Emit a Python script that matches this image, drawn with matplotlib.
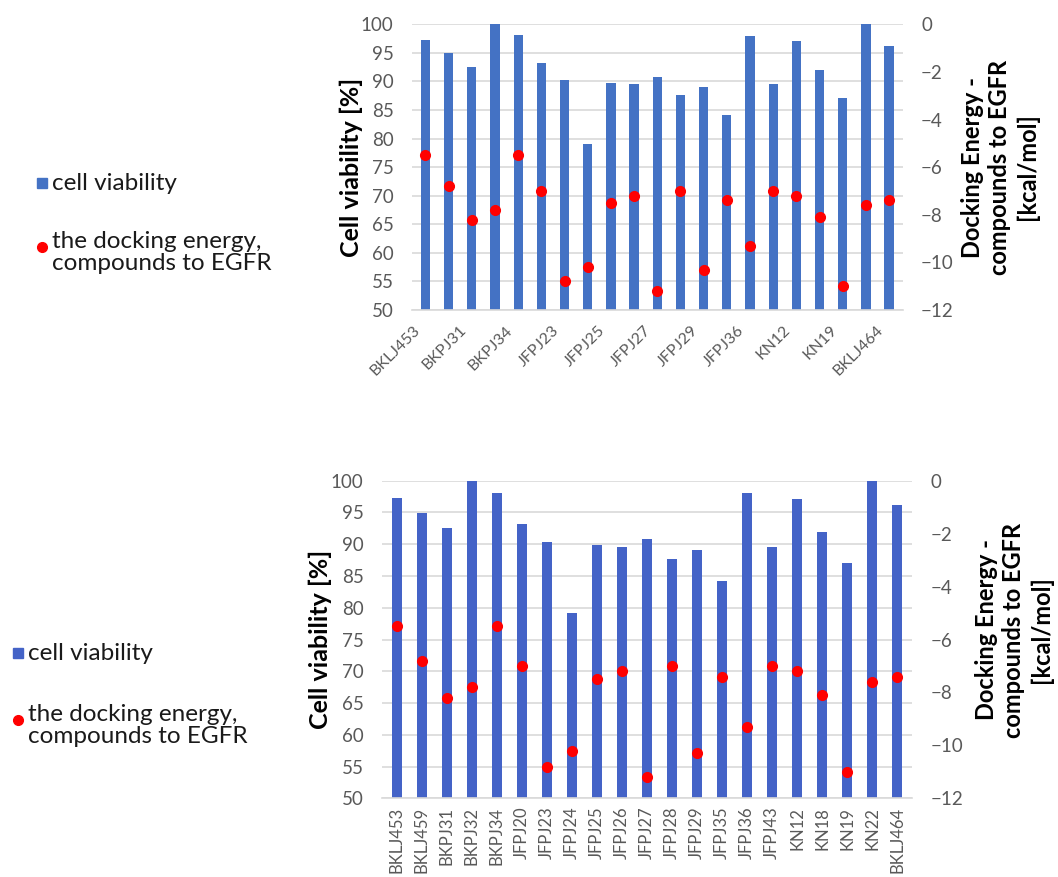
import matplotlib
matplotlib.use("Agg")
import matplotlib.pyplot as plt
from matplotlib.lines import Line2D
from matplotlib.transforms import ScaledTranslation
import numpy as np

plt.rcParams['font.family'] = ['Lato', 'DejaVu Sans']

compounds = ["BKLJ453", "BKLJ459", "BKPJ31", "BKPJ32", "BKPJ34", "JFPJ20", "JFPJ23",
             "JFPJ24", "JFPJ25", "JFPJ26", "JFPJ27", "JFPJ28", "JFPJ29", "JFPJ35",
             "JFPJ36", "JFPJ43", "KN12", "KN18", "KN19", "KN22", "BKLJ464"]
cell_viability = [97.2, 94.9, 92.6, 100.0, 98.1, 93.2, 90.3, 79.1, 89.8, 89.6, 90.8,
                  87.7, 89.1, 84.2, 98.0, 89.5, 97.1, 92.0, 87.1, 100.0, 96.2]
docking_energy = [-5.5, -6.8, -8.2, -7.8, -5.5, -7.0, -10.8, -10.2, -7.5, -7.2, -11.2,
                  -7.0, -10.3, -7.4, -9.3, -7.0, -7.2, -8.1, -11.0, -7.6, -7.4]

left_ticks = [50, 55, 60, 65, 70, 75, 80, 85, 90, 95, 100]
right_ticks = [0, -2, -4, -6, -8, -10, -12]

W, H = 1058, 877
fig = plt.figure(figsize=(W / 100, H / 100), dpi=100)

GRAY = "#595959"
GRID = "#D9D9D9"


def panel(rect, bar_color, rot, every, ylab_x, ylab2_x, ylab2_y, xt_size):
    ax = fig.add_axes(rect)
    x = np.arange(len(compounds))
    ax.bar(x, [v - 50 for v in cell_viability], bottom=50, width=0.4,
           color=bar_color, zorder=2)
    ax.set_ylim(50, 100)
    ax.set_xlim(-0.6, len(compounds) - 0.4)
    ax.set_yticks(left_ticks)
    ax.yaxis.grid(True, color=GRID, linewidth=1.2, zorder=0)
    ax.set_axisbelow(True)
    for s in ["top", "right", "left"]:
        ax.spines[s].set_visible(False)
    ax.spines["bottom"].set_color(GRID)
    ax.spines["bottom"].set_linewidth(1.2)
    ax.tick_params(axis="y", length=0, labelsize=13.5, labelcolor=GRAY, pad=13)
    ax.tick_params(axis="x", length=0, labelsize=xt_size, labelcolor=GRAY, pad=6)
    ax.set_xticks(x[::every])
    if rot == 45:
        ax.set_xticklabels(compounds[::every], rotation=45, ha="right",
                           va="center", rotation_mode="anchor")
        ax.tick_params(axis="x", pad=13)
        off = ScaledTranslation(-0.08, 0, fig.dpi_scale_trans)
        for lab in ax.get_xticklabels():
            lab.set_transform(lab.get_transform() + off)
    else:
        ax.set_xticklabels(compounds[::every], rotation=90, ha="center", va="top")

    ax2 = ax.twinx()
    ax2.set_ylim(-12, 0)
    ax2.set_yticks(right_ticks)
    for s in ax2.spines.values():
        s.set_visible(False)
    ax2.tick_params(axis="y", length=0, labelsize=13.5, labelcolor=GRAY, pad=13)
    ax2.plot(x, docking_energy, linestyle="none", marker="o", markersize=7,
             color="#FF0000", zorder=3)

    yc = rect[1] + rect[3] / 2
    fig.text(ylab_x / W, yc, "Cell viability [%]", fontsize=18, fontweight="bold",
             color="black", rotation=90, ha="center", va="center")
    fig.text(ylab2_x / W, 1 - ylab2_y / H, "Docking Energy -\ncompounds to EGFR\n[kcal/mol]",
             fontsize=17, fontweight="bold", color="black", rotation=90,
             ha="center", va="center", multialignment="center", linespacing=1.25)
    return ax


panel([0.389, 0.6465, 0.4645, 0.3258], "#4472C4", 45, 2, 351, 1000, 167, 11.5)
panel([0.3608, 0.0897, 0.5015, 0.3622], "#4463C7", 90, 1, 320, 1014, 630, 12)


def legend(xm, y1, y2, color1):
    fig.add_artist(Line2D([xm], [y1], marker="s", markersize=6.5, color=color1,
                          linestyle="none", transform=fig.transFigure))
    fig.add_artist(Line2D([xm], [y2 - 0.004], marker="o", markersize=7,
                          color="#FF0000", linestyle="none",
                          transform=fig.transFigure))
    fig.text(xm + 0.009, y1, "cell viability", fontsize=17.5, va="center",
             ha="left", color="#1a1a1a")
    fig.text(xm + 0.009, y2 + 0.014, "the docking energy,\ncompounds to EGFR",
             fontsize=17.5, va="top", ha="left", color="#1a1a1a", linespacing=1.1)


legend(42 / W, 1 - 183 / H, 1 - 243 / H, "#4472C4")
legend(18 / W, 1 - 653 / H, 1 - 716 / H, "#4463C7")

fig.savefig("out.png", dpi=100)
